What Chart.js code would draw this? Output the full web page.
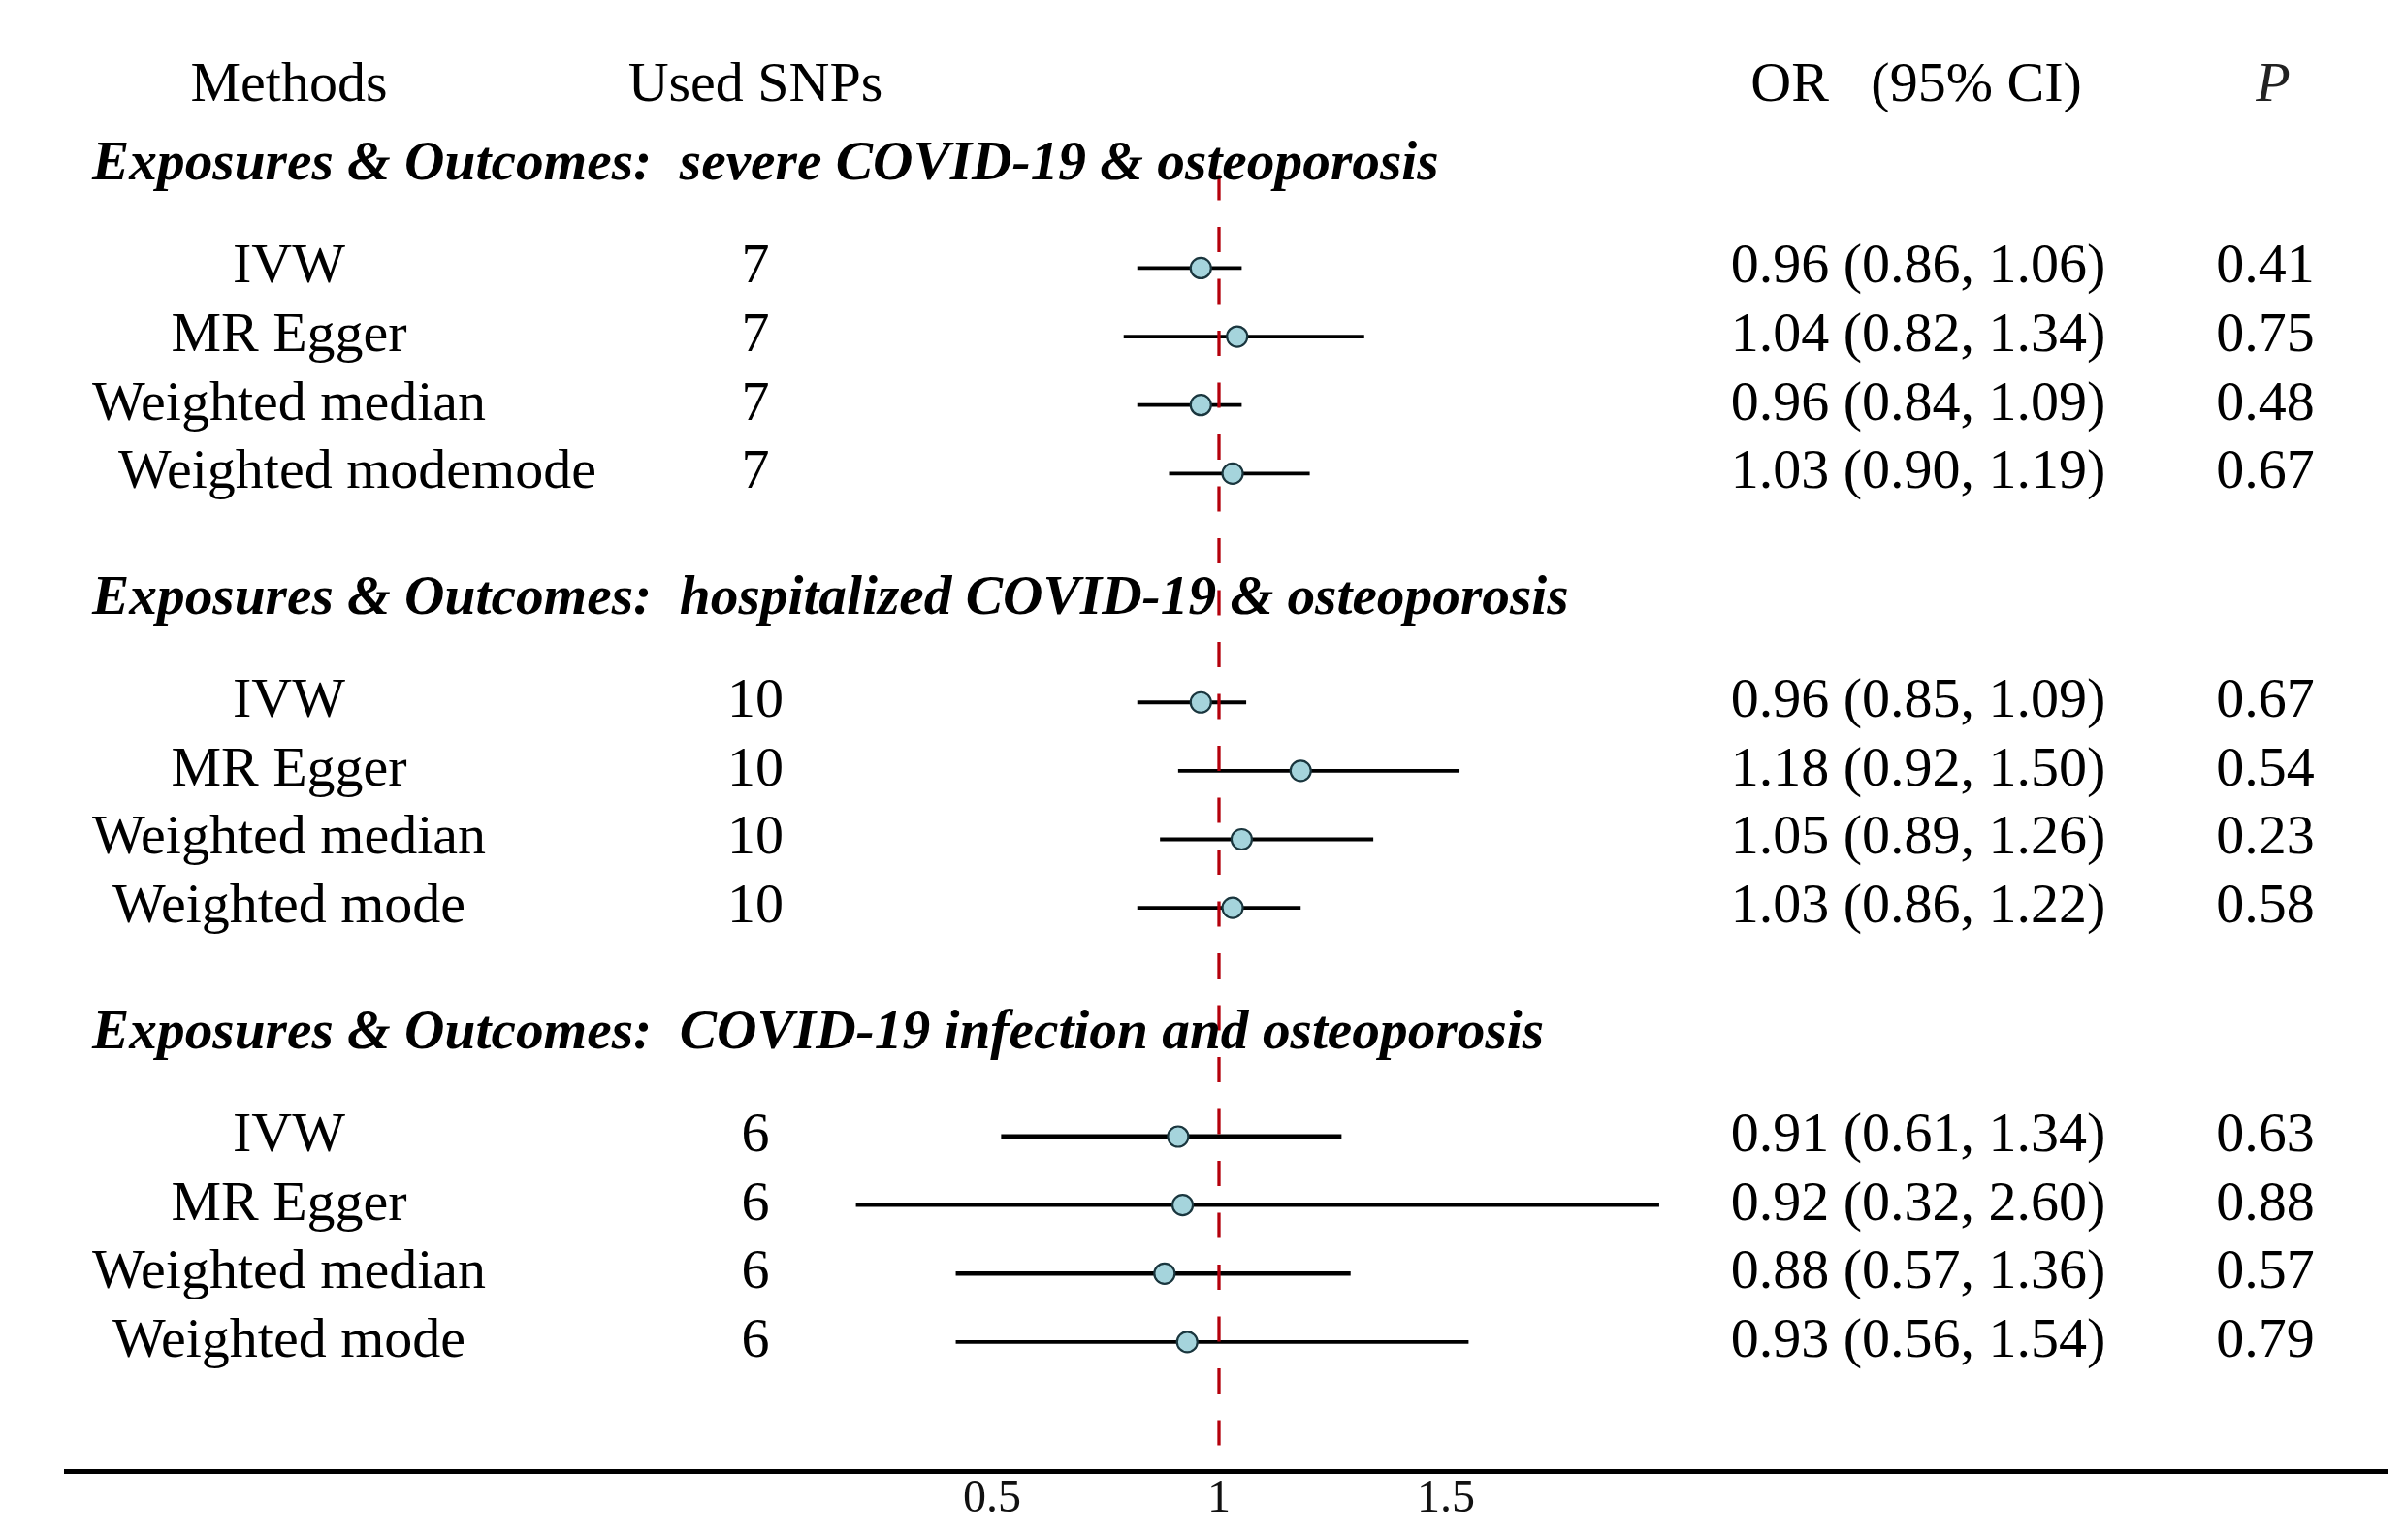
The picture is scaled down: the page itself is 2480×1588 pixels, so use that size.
<!DOCTYPE html>
<html>
<head>
<meta charset="utf-8">
<title>MR forest plot</title>
<script src="https://cdn.jsdelivr.net/npm/chart.js@4.4.1/dist/chart.umd.min.js"></script>
<style>
  body { margin: 0; background: #fff; }
  #wrap { width: 2480px; height: 1588px; }
</style>
</head>
<body>
<div id="wrap"><canvas id="forest" width="2480" height="1588"></canvas></div>
<script>
// data
var groupTitles = [
  'Exposures & Outcomes:  severe COVID-19 & osteoporosis',
  'Exposures & Outcomes:  hospitalized COVID-19 & osteoporosis',
  'Exposures & Outcomes:  COVID-19 infection and osteoporosis'
];
var methods = [
  'IVW', 'MR Egger', 'Weighted median', 'Weighted modemode',
  'IVW', 'MR Egger', 'Weighted median', 'Weighted mode',
  'IVW', 'MR Egger', 'Weighted median', 'Weighted mode'
];
var usedSnps = [7, 7, 7, 7, 10, 10, 10, 10, 6, 6, 6, 6];
var orValues = [0.96, 1.04, 0.96, 1.03, 0.96, 1.18, 1.05, 1.03, 0.91, 0.92, 0.88, 0.93];
var ciLower  = ['0.86', '0.82', '0.84', '0.90', '0.85', '0.92', '0.89', '0.86', '0.61', '0.32', '0.57', '0.56'];
var ciUpper  = ['1.06', '1.34', '1.09', '1.19', '1.09', '1.50', '1.26', '1.22', '1.34', '2.60', '1.36', '1.54'];
var pValues  = ['0.41', '0.75', '0.48', '0.67', '0.67', '0.54', '0.23', '0.58', '0.63', '0.88', '0.57', '0.79'];
// whisker ends as they are drawn in the figure (not always equal to the printed CI)
var whiskerLow  = [0.82, 0.79, 0.82, 0.89, 0.82, 0.91, 0.87, 0.82, 0.52, 0.20, 0.42, 0.42];
var whiskerHigh = [1.05, 1.32, 1.05, 1.20, 1.06, 1.53, 1.34, 1.18, 1.27, 1.97, 1.29, 1.55];
var xTicks = [0.5, 1, 1.5];
var refValue = 1;

// row layout (in row units, top to bottom)
var perGroup = 4;
function titlePos(g) { return g * 6.34; }
function rowPos(i) { return titlePos(Math.floor(i / perGroup)) + 1.52 + (i % perGroup); }
var yTop = -2.394, yBottom = 19.09;

var serif = '"Liberation Serif", "Times New Roman", serif';

var datasets = [];
// points
datasets.push({
  type: 'scatter',
  data: orValues.map(function(v, i) { return { x: v, y: rowPos(i) }; }),
  pointRadius: 10.5,
  pointBackgroundColor: '#A5D4DC',
  pointBorderColor: '#1a363e',
  pointBorderWidth: 2.2,
  order: 0
});
// reference line at OR = 1
datasets.push({
  type: 'line',
  data: [{ x: refValue, y: 0.16 }, { x: refValue, y: yBottom }],
  borderColor: '#B4000C',
  borderWidth: 3.3,
  borderDash: [26, 27.5],
  pointRadius: 0,
  order: 1
});
// whiskers
methods.forEach(function(m, i) {
  var w = 3.8;
  if (i === 8) w = 5;
  if (i === 10) w = 4.5;
  datasets.push({
    type: 'line',
    data: [{ x: whiskerLow[i], y: rowPos(i) }, { x: whiskerHigh[i], y: rowPos(i) }],
    borderColor: '#000',
    borderWidth: w,
    pointRadius: 0,
    order: 2
  });
});

var tablePlugin = {
  id: 'tableText',
  afterDraw: function(chart) {
    var ctx = chart.ctx;
    var y = chart.scales.y;
    ctx.save();
    ctx.fillStyle = '#000';
    ctx.textBaseline = 'alphabetic';

    // header
    ctx.font = '58px ' + serif;
    ctx.textAlign = 'center';
    ctx.fillText('Methods', 298, 104);
    ctx.fillText('Used SNPs', 779, 104);
    ctx.fillText('OR   (95% CI)', 1976, 104);
    ctx.font = 'italic 58px ' + serif;
    ctx.fillStyle = '#222';
    ctx.fillText('P', 2344, 104);
    ctx.fillStyle = '#000';

    // group titles
    ctx.font = 'italic bold 57.4px ' + serif;
    ctx.textAlign = 'left';
    groupTitles.forEach(function(t, g) {
      ctx.fillText(t, 95, y.getPixelForValue(titlePos(g)) + 16);
    });

    // rows
    ctx.font = '58px ' + serif;
    var modeLeft = 298 - ctx.measureText('Weighted mode').width / 2;
    methods.forEach(function(m, i) {
      var py = y.getPixelForValue(rowPos(i)) + 15;
      if (m === 'Weighted modemode') {
        ctx.textAlign = 'left';
        ctx.fillText(m, modeLeft + 6, py);
      } else {
        ctx.textAlign = 'center';
        ctx.fillText(m, 298, py);
      }
      ctx.textAlign = 'center';
      ctx.fillText(String(usedSnps[i]), 779, py);
      ctx.fillText(orValues[i].toFixed(2) + ' (' + ciLower[i] + ', ' + ciUpper[i] + ')', 1978, py);
      ctx.fillText(pValues[i], 2336, py);
    });
    ctx.restore();
  }
};

new Chart(document.getElementById('forest').getContext('2d'), {
  type: 'scatter',
  data: { datasets: datasets },
  options: {
    responsive: false,
    animation: false,
    devicePixelRatio: 1,
    layout: { autoPadding: false, padding: { left: 68, right: 19, top: 0, bottom: 21 } },
    plugins: { legend: { display: false }, tooltip: { enabled: false } },
    scales: {
      x: {
        type: 'linear',
        position: 'bottom',
        min: 1 - 1189 / 468,
        max: 1 + 1204 / 468,
        afterBuildTicks: function(axis) {
          axis.ticks = xTicks.map(function(v) { return { value: v }; });
        },
        ticks: {
          color: '#111',
          padding: -8,
          font: { family: serif, size: 48 },
          callback: function(v) { return String(v); }
        },
        grid: { display: false },
        border: { display: true, color: '#000', width: 5 }
      },
      y: {
        type: 'linear',
        display: false,
        reverse: true,
        min: yTop,
        max: yBottom
      }
    }
  },
  plugins: [tablePlugin]
});
</script>
</body>
</html>
